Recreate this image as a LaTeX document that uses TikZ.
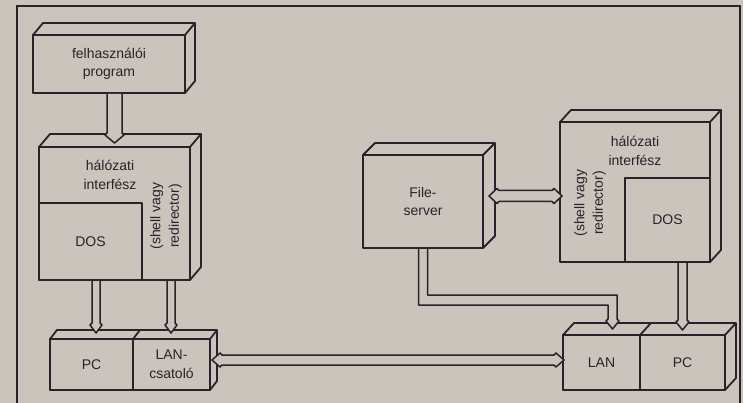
\documentclass[tikz,border=0pt]{standalone}
\usepackage{fontspec}
\setmainfont{Liberation Sans}
\usetikzlibrary{calc}
\definecolor{bg}{RGB}{202,196,189}
\definecolor{ink}{RGB}{42,33,42}
\tikzset{
  ln/.style={draw=ink, line width=1.8pt, line join=round},
  face/.style={ln, fill=bg, inner sep=0pt, outer sep=0pt, align=center,
    text=ink, font=\fontsize{14}{18.5}\selectfont},
  lbl/.style={inner sep=0pt, align=center, text=ink, font=\fontsize{14}{18.5}\selectfont},
  harrow/.style={ln, fill=bg, line width=1.5pt},
}
\newcommand\boxsides[3]{%
  \draw[ln, fill=bg] (#1.north west) -- ++(#2,#3) -- ($(#1.north east)+(#2,#3)$)
    -- ($(#1.south east)+(#2,#3)$) -- (#1.south east) -- (#1.north east) -- cycle;
  \draw[ln] (#1.north east) -- ++(#2,#3);
}
\newcommand\hollowdown[3]{%
  \filldraw[harrow] ($(#2|-#1)+(-#3,1)$) -- ($(#2)+(-#3,-10)$) -- ($(#2)+(-#3-2,-8)$)
    -- (#2) -- ($(#2)+(#3+2,-8)$) -- ($(#2)+(#3,-10)$) -- ($(#2|-#1)+(#3,1)$);
}
\newcommand\hollowboth[3]{%
  \filldraw[harrow] (#1) -- ($(#1)+(8,-#3-2)$) -- ($(#1)+(10,-#3)$) -- ($(#2)+(-10,-#3)$)
    -- ($(#2)+(-8,-#3-2)$) -- (#2) -- ($(#2)+(-8,#3+2)$) -- ($(#2)+(-10,#3)$)
    -- ($(#1)+(10,#3)$) -- ($(#1)+(8,#3+2)$) -- cycle;
}
\begin{document}
\begin{tikzpicture}[x=1pt, y=-1pt]
\useasboundingbox (0,0) rectangle (743,403);
\fill[bg] (0,0) rectangle (743,403);
\draw[ink, line width=2.2pt] (17,403) -- (17,6) -- (740,6) -- (740,403);

% felhasznaloi program
\node[face, minimum width=152pt, minimum height=58pt] (fp) at (109,64) {felhasználói\\program};
\boxsides{fp}{10}{-12}

% left halozati interfesz
\node[face, minimum width=151pt, minimum height=133pt] (ni) at (114.5,213.5) {};
\boxsides{ni}{11}{-13}
\node[face, minimum width=103pt, minimum height=77pt] (dosl) at (90.5,241.5) {DOS};
\node[lbl] (nil) at (110,175) {hálózati\\interfész};
\node[lbl, rotate=90] (shl) at (166,216) {(shell vagy\\redirector)};

% left PC / LAN-csatolo
\node[face, minimum width=160pt, minimum height=51pt] (pcl) at (130,364.5) {};
\boxsides{pcl}{7}{-9}
\node[face, minimum width=83pt, minimum height=51pt] (pcleft) at (91.5,364.5) {PC};
\node[face, minimum width=77pt, minimum height=51pt] (lanc) at (171.5,364.5) {LAN-\\csatoló};
\draw[ln] (pcleft.north east) -- ++(7,-9);

% File-server
\node[face, minimum width=120pt, minimum height=93pt] (fs) at (423,201.5) {File-\\server};
\boxsides{fs}{12}{-12}

% right halozati interfesz
\node[face, minimum width=150pt, minimum height=140pt] (nr) at (635,192) {};
\boxsides{nr}{11}{-12}
\node[face, minimum width=85pt, minimum height=84pt] (dosr) at (667.5,220) {DOS};
\node[lbl] (nrl) at (635,151) {hálózati\\interfész};
\node[lbl, rotate=90] (shr) at (590,203) {(shell vagy\\redirector)};

% right LAN / PC
\node[face, minimum width=162pt, minimum height=55pt] (lpr) at (644,362.5) {};
\boxsides{lpr}{11}{-12}
\node[face, minimum width=77pt, minimum height=55pt] (lanr) at (601.5,362.5) {LAN};
\node[face, minimum width=85pt, minimum height=55pt] (pcr) at (682.5,362.5) {PC};
\draw[ln] (lanr.north east) -- ++(11,-12);

% arrow tips
\coordinate (t1) at (114.5,143);
\coordinate (t2) at (96,333);
\coordinate (t3) at (171,333);
\coordinate (t4) at (682.5,330);
\coordinate (t5) at (612.5,329);
\coordinate (k5) at (612.5,300);
\coordinate (hl) at (212,360);
\coordinate (hr) at (564,360);
\coordinate (fl) at (489,196);
\coordinate (fr) at (562,196);

\hollowdown{fp.south}{t1}{7.5}
\hollowdown{ni.south}{t2}{4}
\hollowdown{ni.south}{t3}{4}
\hollowdown{nr.south}{t4}{4.5}
\hollowboth{hl}{hr}{5}
\hollowboth{fl}{fr}{5.5}
\filldraw[harrow] ($(fs.south)+(-4.5,1)$) -- ($(fs.south|-k5)+(-4.5,5)$) -- ($(k5)+(-4.5,5)$)
  -- ($(t5)+(-4.5,-10)$) -- ($(t5)+(-6.5,-8)$) -- (t5) -- ($(t5)+(6.5,-8)$)
  -- ($(t5)+(4.5,-10)$) -- ($(k5)+(4.5,-5)$) -- ($(fs.south|-k5)+(4.5,-5)$)
  -- ($(fs.south)+(4.5,1)$);
\end{tikzpicture}
\end{document}
